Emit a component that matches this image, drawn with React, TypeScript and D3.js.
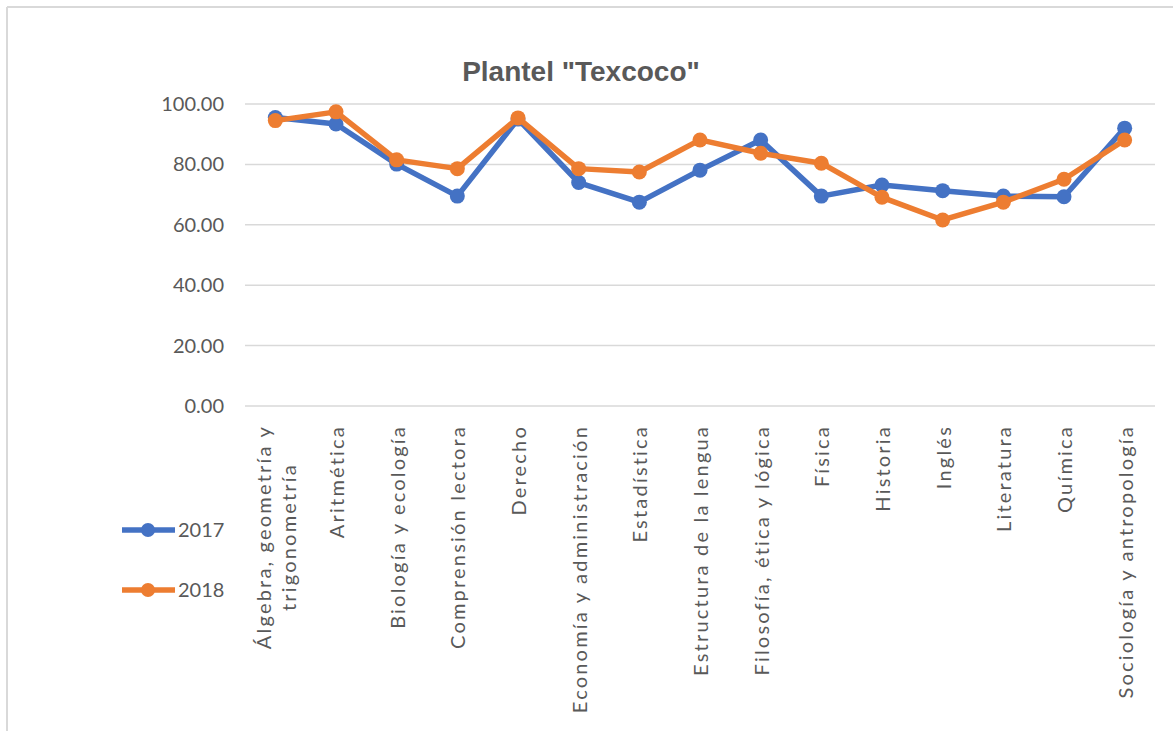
import React, { useEffect, useRef } from "react";
import * as d3 from "d3";

const categories: string[][] = [
  ["Álgebra, geometría y", "trigonometría"],
  ["Aritmética"],
  ["Biología y ecología"],
  ["Comprensión lectora"],
  ["Derecho"],
  ["Economía y administración"],
  ["Estadística"],
  ["Estructura de la lengua"],
  ["Filosofía,  ética y lógica"],
  ["Física"],
  ["Historia"],
  ["Inglés"],
  ["Literatura"],
  ["Química"],
  ["Sociología y antropología"],
];

const values2017 = [95.5, 93.4, 80.1, 69.5, 95.0, 74.0, 67.5, 78.1, 88.1, 69.5, 73.2, 71.3, 69.5, 69.3, 92.0];
const values2018 = [94.5, 97.4, 81.5, 78.6, 95.4, 78.6, 77.5, 88.1, 83.7, 80.4, 69.1, 61.6, 67.5, 75.1, 88.1];

const yTicks = [0, 20, 40, 60, 80, 100];
const seriesNames = ["2017", "2018"];
const seriesColors = ["#4472C4", "#ED7D31"];

const W = 1173;
const H = 731;
const plot = { left: 245, right: 1155, top: 104, bottom: 406 };
const labelFont = "Lato, 'Open Sans', sans-serif";
const textColor = "#595959";

export default function App() {
  const ref = useRef<SVGSVGElement | null>(null);

  useEffect(() => {
    const svg = d3.select(ref.current);
    svg.selectAll("*").remove();

    // chart frame
    svg.append("line").attr("x1", 7).attr("x2", W).attr("y1", 7).attr("y2", 7)
      .attr("stroke", "#d9d9d9").attr("stroke-width", 2);
    svg.append("line").attr("x1", 7).attr("x2", 7).attr("y1", 7).attr("y2", H)
      .attr("stroke", "#d9d9d9").attr("stroke-width", 2);

    const x = d3.scaleBand<number>()
      .domain(d3.range(categories.length))
      .range([plot.left, plot.right]);
    const y = d3.scaleLinear().domain([0, 100]).range([plot.bottom, plot.top]);
    const cx = (i: number) => (x(i) as number) + x.bandwidth() / 2;

    // title
    svg.append("text")
      .attr("x", 581).attr("y", 81)
      .attr("text-anchor", "middle")
      .attr("font-family", "'Liberation Sans', Arial, sans-serif")
      .attr("font-weight", "bold")
      .attr("font-size", 28)
      .attr("fill", textColor)
      .text('Plantel "Texcoco"');

    // gridlines
    svg.append("g").selectAll("line").data(yTicks).join("line")
      .attr("x1", plot.left).attr("x2", plot.right)
      .attr("y1", (d) => y(d)).attr("y2", (d) => y(d))
      .attr("stroke", "#d9d9d9").attr("stroke-width", 1.5);

    // y tick labels
    svg.append("g").selectAll("text").data(yTicks).join("text")
      .attr("x", 224).attr("y", (d) => y(d))
      .attr("dy", "0.35em")
      .attr("text-anchor", "end")
      .attr("font-family", labelFont)
      .attr("font-size", 20)
      .attr("fill", textColor)
      .text((d) => d3.format(".2f")(d));

    // category labels, rotated
    const labelTop = 425;
    const lineGap = 25;
    const lg = svg.append("g");
    categories.forEach((lines, i) => {
      const g = lg.append("g")
        .attr("transform", `translate(${cx(i)},${labelTop}) rotate(-90)`);
      const texts = lines.map((ln, k) =>
        g.append("text")
          .attr("y", (k - (lines.length - 1) / 2) * lineGap)
          .attr("dominant-baseline", "central")
          .attr("text-anchor", "middle")
          .attr("font-family", labelFont)
          .attr("font-size", 20)
          .attr("letter-spacing", 2.2)
          .attr("fill", textColor)
          .text(ln)
      );
      const widths = texts.map((t) => (t.node() as SVGTextElement).getComputedTextLength());
      const maxW = d3.max(widths) ?? 0;
      texts.forEach((t) => t.attr("x", -maxW / 2));
    });

    // series
    const line = d3.line<number>().x((_, i) => cx(i)).y((d) => y(d));
    [values2017, values2018].forEach((vals, s) => {
      const g = svg.append("g");
      g.append("path").datum(vals)
        .attr("d", line)
        .attr("fill", "none")
        .attr("stroke", seriesColors[s])
        .attr("stroke-width", 5.5)
        .attr("stroke-linejoin", "round");
      g.selectAll("circle").data(vals).join("circle")
        .attr("cx", (_, i) => cx(i)).attr("cy", (d) => y(d))
        .attr("r", 7.5)
        .attr("fill", seriesColors[s]);
    });

    // legend
    seriesNames.forEach((name, s) => {
      const ly = 530 + s * 60;
      const g = svg.append("g");
      g.append("line").attr("x1", 122).attr("x2", 175).attr("y1", ly).attr("y2", ly)
        .attr("stroke", seriesColors[s]).attr("stroke-width", 5.5);
      g.append("circle").attr("cx", 148).attr("cy", ly).attr("r", 7)
        .attr("fill", seriesColors[s]);
      g.append("text").attr("x", 178).attr("y", ly).attr("dy", "0.35em")
        .attr("font-family", labelFont).attr("font-size", 20)
        .attr("fill", textColor).text(name);
    });
  }, []);

  return (
    <svg
      ref={ref}
      width={W}
      height={H}
      style={{ position: "absolute", left: 0, top: 0, background: "#fff" }}
    />
  );
}
